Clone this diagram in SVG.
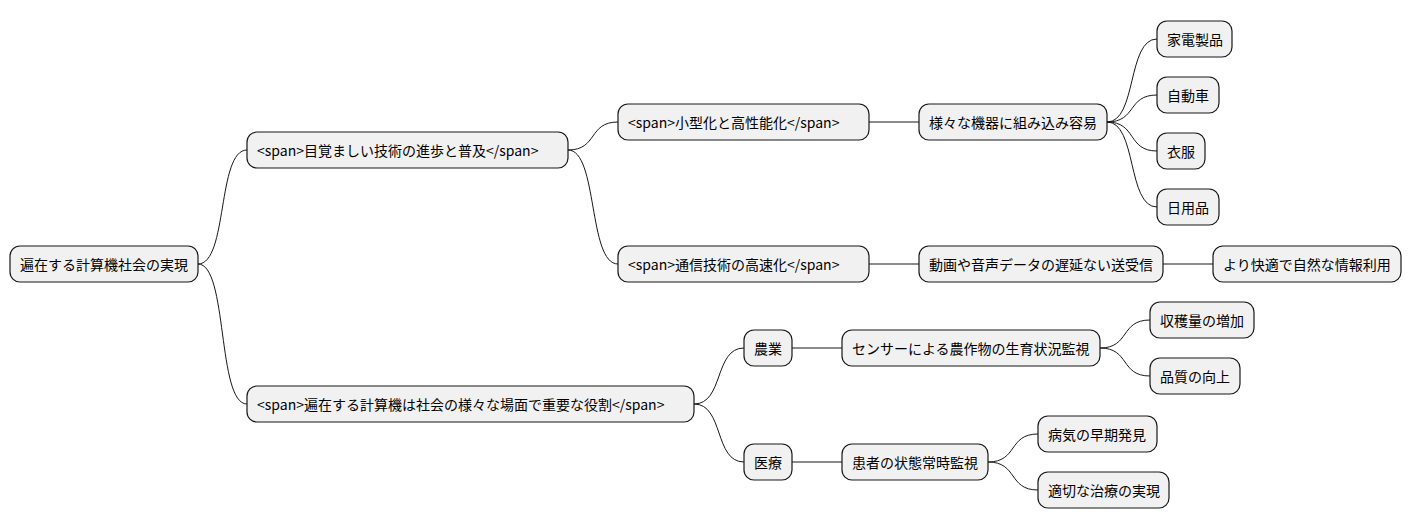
<svg xmlns="http://www.w3.org/2000/svg" width="1412" height="527" viewBox="0 0 1412 527">
<style>
rect{fill:#f1f1f1;stroke:#181818;stroke-width:1.2}
text{font-family:"Noto Sans CJK JP","Noto Sans",sans-serif;font-size:14px;fill:#000;dominant-baseline:central}
#links path{fill:none;stroke:#181818;stroke-width:1}
</style>
<rect x="0" y="0" width="1412" height="527" style="fill:#fff;stroke:none"/>
<g id="links">
<path d="M198,264 C228,264 217,150 247,150"/>
<path d="M198,264 C228,264 217,404 247,404"/>
<path d="M568,150 C598,150 588,122 618,122"/>
<path d="M568,150 C598,150 588,264 618,264"/>
<path d="M869,122 H919"/>
<path d="M869,264 H919"/>
<path d="M1107,122 C1137,122 1127,39 1157,39"/>
<path d="M1107,122 C1137,122 1127,95 1157,95"/>
<path d="M1107,122 C1137,122 1127,151 1157,151"/>
<path d="M1107,122 C1137,122 1127,207 1157,207"/>
<path d="M1163,264 H1213"/>
<path d="M694,404 C724,404 714,348 744,348"/>
<path d="M694,404 C724,404 714,462 744,462"/>
<path d="M792,348 H842"/>
<path d="M792,462 H842"/>
<path d="M1100,348 C1130,348 1120,320 1150,320"/>
<path d="M1100,348 C1130,348 1120,376 1150,376"/>
<path d="M988,462 C1018,462 1008,434 1038,434"/>
<path d="M988,462 C1018,462 1008,490 1038,490"/>
</g>
<g id="n1"><rect x="10" y="246" width="188" height="36" rx="10"/><text x="20" y="264">遍在する計算機社会の実現</text></g>
<g id="n2"><rect x="247" y="132" width="321" height="36" rx="10"/><text x="257" y="150">&lt;span&gt;目覚ましい技術の進歩と普及&lt;/span&gt;</text></g>
<g id="n3"><rect x="247" y="386" width="447" height="36" rx="10"/><text x="257" y="404">&lt;span&gt;遍在する計算機は社会の様々な場面で重要な役割&lt;/span&gt;</text></g>
<g id="n4"><rect x="618" y="104" width="251" height="36" rx="10"/><text x="628" y="122">&lt;span&gt;小型化と高性能化&lt;/span&gt;</text></g>
<g id="n5"><rect x="618" y="246" width="251" height="36" rx="10"/><text x="628" y="264">&lt;span&gt;通信技術の高速化&lt;/span&gt;</text></g>
<g id="n6"><rect x="919" y="104" width="188" height="36" rx="10"/><text x="929" y="122">様々な機器に組み込み容易</text></g>
<g id="n7"><rect x="1157" y="21" width="75" height="36" rx="10"/><text x="1167" y="39">家電製品</text></g>
<g id="n8"><rect x="1157" y="77" width="62" height="36" rx="10"/><text x="1167" y="95">自動車</text></g>
<g id="n9"><rect x="1157" y="133" width="48" height="36" rx="10"/><text x="1167" y="151">衣服</text></g>
<g id="n10"><rect x="1157" y="189" width="62" height="36" rx="10"/><text x="1167" y="207">日用品</text></g>
<g id="n11"><rect x="919" y="246" width="244" height="36" rx="10"/><text x="929" y="264">動画や音声データの遅延ない送受信</text></g>
<g id="n12"><rect x="1213" y="246" width="188" height="36" rx="10"/><text x="1223" y="264">より快適で自然な情報利用</text></g>
<g id="n13"><rect x="744" y="330" width="48" height="36" rx="10"/><text x="754" y="348">農業</text></g>
<g id="n14"><rect x="744" y="444" width="48" height="36" rx="10"/><text x="754" y="462">医療</text></g>
<g id="n15"><rect x="842" y="330" width="258" height="36" rx="10"/><text x="852" y="348">センサーによる農作物の生育状況監視</text></g>
<g id="n16"><rect x="1150" y="302" width="104" height="36" rx="10"/><text x="1160" y="320">収穫量の増加</text></g>
<g id="n17"><rect x="1150" y="358" width="90" height="36" rx="10"/><text x="1160" y="376">品質の向上</text></g>
<g id="n18"><rect x="842" y="444" width="146" height="36" rx="10"/><text x="852" y="462">患者の状態常時監視</text></g>
<g id="n19"><rect x="1038" y="416" width="119" height="36" rx="10"/><text x="1048" y="434">病気の早期発見</text></g>
<g id="n20"><rect x="1038" y="472" width="131" height="36" rx="10"/><text x="1048" y="490">適切な治療の実現</text></g>
</svg>
